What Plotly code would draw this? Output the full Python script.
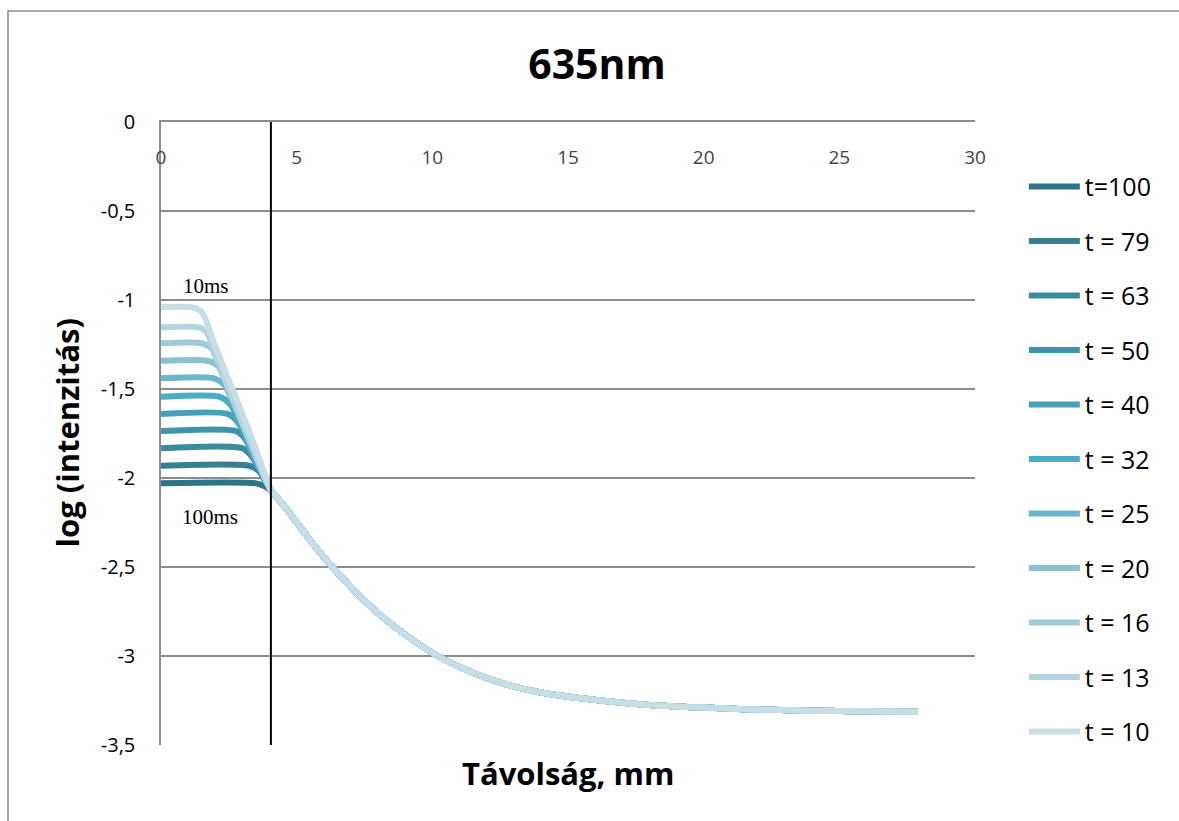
import plotly.graph_objects as go

# Series labels (legend order) and line colours
labels = ["t=100", "t = 79", "t = 63", "t = 50", "t = 40", "t = 32",
          "t = 25", "t = 20", "t = 16", "t = 13", "t = 10"]
colors = ["#2F7386", "#358092", "#3A8B9E", "#3E95AA", "#45A1BA", "#4BACC6",
          "#6DB5CA", "#8BC0D1", "#A2C9D7", "#B6D4DF", "#C8DEE6"]

# Plateau / shoulder part of each curve (distance in mm, log intensity)
head_x = [
    [0, 3.50, 3.80, 4.05],
    [0, 3.25, 3.60, 4.05],
    [0, 3.00, 3.35, 4.05],
    [0, 2.75, 3.10, 3.60, 4.05],
    [0, 2.45, 2.85, 3.40, 4.05],
    [0, 2.15, 2.55, 2.80, 3.40, 4.05],
    [0, 1.95, 2.35, 2.70, 3.40, 4.05],
    [0, 1.70, 2.10, 2.30, 3.00, 3.60, 4.05],
    [0, 1.50, 1.85, 2.10, 2.70, 3.40, 4.05],
    [0, 1.35, 1.65, 1.90, 2.50, 3.20, 4.05],
    [0, 1.15, 1.45, 1.60, 2.00, 2.50, 3.00, 3.50, 4.05],
]
head_y = [
    [-2.030, -2.030, -2.045, -2.070],
    [-1.931, -1.931, -1.960, -2.070],
    [-1.833, -1.833, -1.880, -2.070],
    [-1.736, -1.736, -1.780, -1.930, -2.070],
    [-1.640, -1.640, -1.690, -1.880, -2.070],
    [-1.543, -1.543, -1.585, -1.655, -1.870, -2.070],
    [-1.440, -1.440, -1.480, -1.590, -1.850, -2.070],
    [-1.341, -1.341, -1.370, -1.430, -1.690, -1.900, -2.070],
    [-1.243, -1.243, -1.270, -1.350, -1.580, -1.840, -2.070],
    [-1.153, -1.153, -1.175, -1.260, -1.500, -1.760, -2.070],
    [-1.041, -1.041, -1.060, -1.094, -1.260, -1.450, -1.640, -1.840, -2.060],
]

# Shared decay towards the background level
tail_x = [4.5, 5.0, 5.5, 6.2, 6.8, 7.3, 8.0, 9.0, 10.2, 11.2, 12.5, 14.0,
          16.2, 18.0, 20.0, 21.7, 24.0, 26.0, 27.9]
tail_y = [-2.15, -2.25, -2.35, -2.48, -2.58, -2.66, -2.76, -2.88, -3.00,
          -3.075, -3.15, -3.205, -3.25, -3.275, -3.29, -3.30, -3.307,
          -3.311, -3.313]

# Axis ticks
y_ticks = [0, -0.5, -1, -1.5, -2, -2.5, -3, -3.5]
y_ticktext = ["0", "-0,5", "-1", "-1,5", "-2", "-2,5", "-3", "-3,5"]
x_ticks = [0, 5, 10, 15, 20, 25, 30]

marker_x = 4.05  # vertical reference line position, mm

fig = go.Figure()
for name, col, hx, hy in zip(labels, colors, head_x, head_y):
    fig.add_trace(go.Scatter(
        x=hx + tail_x, y=hy + tail_y, mode="lines", name=name,
        legendgroup=name,
        line=dict(color=col, width=6, shape="spline", smoothing=0.7),
    ))

fig.add_shape(type="line", x0=marker_x, x1=marker_x, y0=0, y1=-3.52,
              xref="x", yref="y", line=dict(color="black", width=2))

# outer chart frame
fig.add_shape(type="rect", xref="paper", yref="paper",
              x0=-153 / 814, x1=1.3, y0=-0.2, y1=1 + 111 / 623,
              line=dict(color="#8C8C8C", width=1.5), layer="below")

fig.add_annotation(x=1.65, y=-0.92, xref="x", yref="y", text="10ms",
                   showarrow=False, xanchor="center",
                   font=dict(family="Liberation Serif", size=21, color="black"))
fig.add_annotation(x=1.8, y=-2.22, xref="x", yref="y", text="100ms",
                   showarrow=False, xanchor="center",
                   font=dict(family="Liberation Serif", size=21, color="black"))

# axis titles
fig.add_annotation(x=0.5, y=-(773 - 745) / 623, xref="paper", yref="paper",
                   text="<b>Távolság, mm</b>", showarrow=False,
                   xanchor="center", yanchor="middle",
                   font=dict(size=31, family="Open Sans", color="black"))
fig.add_annotation(x=-(161 - 66) / 814, y=0.5, xref="paper", yref="paper",
                   text="<b>log (intenzitás)</b>", showarrow=False,
                   textangle=-90, xanchor="center", yanchor="middle",
                   font=dict(size=31, family="Open Sans", color="black"))

fig.update_layout(
    width=1179, height=821,
    margin=dict(l=161, r=204, t=122, b=76),
    paper_bgcolor="white", plot_bgcolor="white",
    font=dict(family="Open Sans", color="black", size=19),
    title=dict(text="<b>635nm</b>", x=597 / 1179, xanchor="center",
               y=1 - 65 / 821, yanchor="middle",
               font=dict(size=41, family="Open Sans")),
    xaxis=dict(
        range=[0, 30], tickvals=x_ticks, side="top", showgrid=False,
        zeroline=False, showline=True, linecolor="#8C8C8C", linewidth=1.5,
        ticks="", ticklabelposition="inside", ticklabelstandoff=30,
        ticklabeloverflow="allow", tickfont=dict(size=19),
    ),
    yaxis=dict(
        range=[-3.5, 0], tickvals=y_ticks, ticktext=y_ticktext,
        showgrid=True, gridcolor="#8C8C8C", gridwidth=1.5, zeroline=False,
        showline=True, linecolor="#8C8C8C", linewidth=1.5, ticks="",
        ticklabelstandoff=20, tickfont=dict(size=20),
    ),
    legend=dict(x=1.06, y=0.933, xanchor="left", yanchor="top",
                font=dict(size=25), tracegroupgap=19,
                bgcolor="rgba(0,0,0,0)", itemwidth=51),
    showlegend=True,
)

fig.write_html("out.html")
